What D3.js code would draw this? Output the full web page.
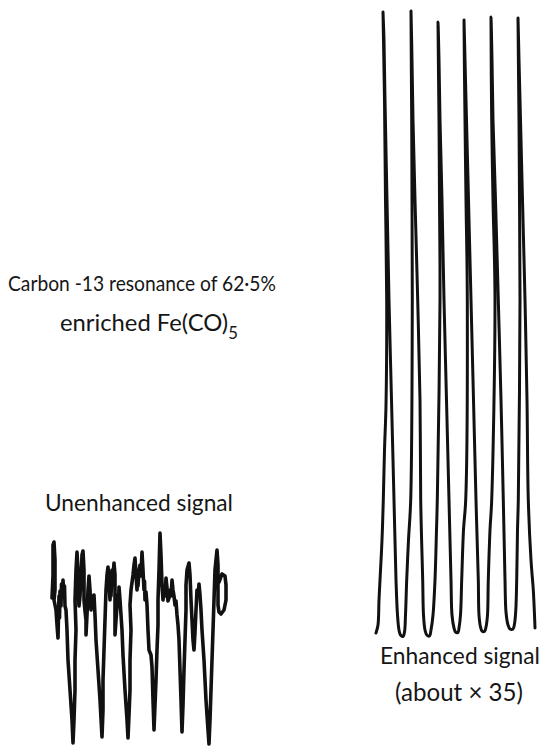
<!DOCTYPE html>
<html>
<head>
<meta charset="utf-8">
<script src="https://cdn.jsdelivr.net/npm/d3@7"></script>
<style>
  body { margin: 0; background: #fff; }
  svg { display: block; }
  text { font-family: Lato, "Open Sans", sans-serif; fill: #161616; }
</style>
</head>
<body>
<svg width="541" height="746"></svg>
<script>
const svgWidth = 541;
const svgHeight = 746;

// unenhanced recorder trace: [pen position, deflection]
const unenhanced = [
  [12,148],[13,171],[13,201],[14,204],[15,186],[15,156],[14,146],[16,136],[17,121],[18,108],
  [18.5,130],[19,150],[19.5,128],[20,155],[21,140],[21.5,162],[22.5,150],[23,166],[24,150],[24.5,160],
  [25,140],[26,136],[27,116],[28,86],[30,56],[32,26],[33,3],[34,26],[35,56],[35,86],
  [36,116],[35,146],[36,176],[37,194],
  [38,176],[38,156],[39,140],[40,150],[41,166],[42,191],[43,195],[44,176],[44,146],[45,135],
  [46,126],[46,111],[47,131],[48,156],[49,170],[50,156],[50.5,145],[51,136],[52,150],[53,146],
  [54,151],[55,131],[56,106],[58,76],[60,46],[62,9],[63,36],[63,66],[64,96],[65,126],
  [66,156],[67,171],[68,179],
  [69,166],[70,146],[70.5,160],[71,150],[72,176],[73,170],[74,183],[75,171],[75,136],[75,111],
  [76,126],[77,140],[78,151],[78.5,140],[79,159],[80,146],[81,131],[82,116],[83,91],[85,56],
  [87,26],[88,8],[89,31],[90,56],[90,86],[91,116],[90,141],[91,156],[93,171],[94,181],
  [95,188],
  [96,171],[97,156],[97.5,165],[98,160],[99,175],[100,181],[101,170],[102,194],[103,176],[104,156],
  [104.5,165],[105,146],[106,154],[107,141],[108,116],[109,96],[111,91],[112,79],[113,46],[114,16],
  [115,41],[116,66],[117,96],[118,121],[118,146],[119,176],[120,213],
  [121,191],[122,161],[123,146],[124,156],[125,150],[126,168],[127,158],[128,145],[129,148],[130,156],
  [131,150],[132,166],[133,156],[134,150],[135,141],[136,145],[137,131],[138,121],[139,106],[140,76],
  [141,46],[142,14],[143,41],[144,76],[145,106],[146,136],[146,161],[147,176],[149,183],
  [150,171],[151,146],[152,126],[153,106],[154,96],[155,114],[156,136],[157,156],[158,150],[159,162],
  [160,151],[161,136],[162,116],[164,86],[166,46],[168,16],[169,2],[170,26],[171,56],[172,86],
  [173,116],[174,146],[175,176],[177,196],
  [178,181],[178,156],[178,141],[179,134],[181,132],[184,136],[186,146],[186,161],[185,170],[182,172],
  [179,164]
];

// enhanced trace: [pen position, deflection]
const enhanced = [
  [6,7],[8,15],[9,40],[10,60],[12,100],[13.3,140],[14.5,190],[16,235],[16.7,340],[15.5,440],
  [14.5,540],[13.5,600],[13,628],
  [14,600],[15,540],[17,440],[19,340],[21.5,240],[24,140],[26,60],[27.5,25],[29,10],[30.5,5],[33,3.5],
  [34.5,8],[35.5,25],[36.7,60],[38.5,100],[40.7,140],[42.3,340],[42,440],[41.7,520],[41,629],
  [42,580],[43,520],[45,440],[47.7,340],[50,240],[50.7,140],[52.7,60],[53.5,25],[55,10],[56.8,5],[59.5,4],
  [61,10],[63,25],[65,60],[66.5,110],[67.3,140],[70,340],[69.5,440],[69,520],[68,618],
  [69,580],[70,520],[72,440],[74,340],[76.5,240],[79,140],[81,60],[82,25],[84,12],[85.5,8],[88,7.5],
  [89,12],[90.5,25],[91.7,60],[93.5,110],[95.7,140],[97.3,340],[96,440],[95,520],[94,620],
  [95,580],[96.5,520],[98.5,440],[101,340],[103.5,240],[106,140],[108.3,60],[109,25],[110.5,13],[112,9],[114.5,8.5],
  [116,13],[117.5,25],[118.3,60],[120,110],[121.7,140],[125,340],[123,440],[121.7,520],[121,623],
  [122,580],[123,520],[125.5,440],[128.3,340],[131,240],[133.3,140],[135,60],[136,28],[138,15],[140,11],[143,11],
  [144.5,16],[145.8,30],[146.7,60],[147.5,110],[148.3,140],[150,340],[149.5,440],[149,520],[148,622],
  [149,580],[150.5,520],[152.5,440],[155,340],[157,240],[158.3,140],[161,80],[163.3,50],[164.5,25],[165,12]
];

const svg = d3.select('svg');
svg.append('rect').attr('width', svgWidth).attr('height', svgHeight).attr('fill', '#fff');

// unenhanced panel
var xU = d3.scaleLinear().domain([0, 200]).range([40, 240]);
var yU = d3.scaleLinear().domain([0, 216]).range([746, 530]);

svg.append('path')
  .datum(unenhanced)
  .attr('d', d3.line().x(d => xU(d[0])).y(d => yU(d[1])))
  .attr('fill', 'none')
  .attr('stroke', '#111')
  .attr('stroke-width', 3.6)
  .attr('stroke-linejoin', 'round')
  .attr('stroke-linecap', 'round');

// enhanced panel
var xE = d3.scaleLinear().domain([0, 171]).range([370, 541]);
var yE = d3.scaleLinear().domain([0, 640]).range([640, 0]);

svg.append('path')
  .datum(enhanced)
  .attr('d', d3.line().x(d => xE(d[0])).y(d => yE(d[1])).curve(d3.curveCatmullRom.alpha(0.5)))
  .attr('fill', 'none')
  .attr('stroke', '#111')
  .attr('stroke-width', 3)
  .attr('stroke-linejoin', 'round')
  .attr('stroke-linecap', 'round');

// labels, sized to the width they take in the original
function fitText(sel, width) {
  let w = sel.node().getComputedTextLength();
  let size = parseFloat(sel.attr('font-size'));
  sel.attr('font-size', size * width / w);
}

// the original face is narrower than Lato, so squeeze this long line sideways only
let t1 = svg.append('text').attr('font-size', 21)
  .text('Carbon -13 resonance of 62·5%');
let w1 = t1.node().getComputedTextLength();
t1.attr('transform', 'translate(8,291) scale(' + (268 / w1) + ',1)');

let t2 = svg.append('text').attr('x', 60).attr('y', 331).attr('font-size', 20);
t2.append('tspan').text('enriched Fe(CO)');
t2.append('tspan').attr('font-size', 14).attr('dy', 8).text('5');
fitText(t2, 178);
t2.select('tspan:last-child').attr('font-size', parseFloat(t2.attr('font-size')) * 0.7);

let t3 = svg.append('text').attr('x', 45).attr('y', 511).attr('font-size', 20)
  .text('Unenhanced signal');
fitText(t3, 188);

let t4 = svg.append('text').attr('x', 380).attr('y', 664).attr('font-size', 20)
  .text('Enhanced signal');
fitText(t4, 160);

let t5 = svg.append('text').attr('x', 395).attr('y', 701).attr('font-size', 20)
  .text('(about × 35)');
fitText(t5, 128);
</script>
</body>
</html>
